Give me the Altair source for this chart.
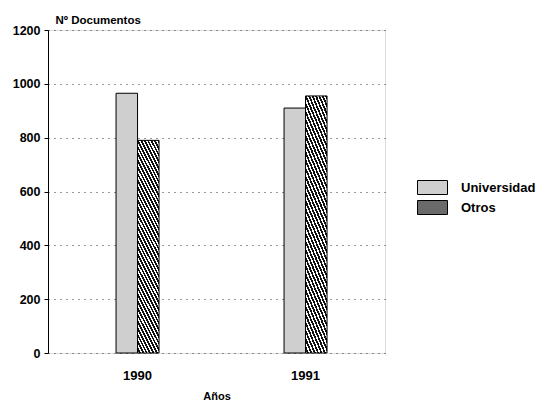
import altair as alt
import pandas as pd

years = ["1990", "1991"]
series = ["Universidad", "Otros"]
universidad = [965, 910]
otros = [790, 955]

rows = []
for i, yr in enumerate(years):
    rows.append({"year": yr, "series": "Universidad", "value": universidad[i]})
    rows.append({"year": yr, "series": "Otros", "value": otros[i]})
df = pd.DataFrame(rows)

# diagonal hatch built from a hard-stop linear gradient
n = 38
stops = []
for k in range(n):
    stops.append({"offset": k / n, "color": "#ffffff"})
    stops.append({"offset": (k + 0.45) / n, "color": "#ffffff"})
    stops.append({"offset": (k + 0.45) / n, "color": "#111111"})
    stops.append({"offset": (k + 1) / n, "color": "#111111"})
hatch = {"gradient": "linear", "x1": 0, "y1": 1, "x2": 0.2308, "y2": -0.154, "stops": stops}

FONT = "Liberation Sans"

fill = alt.condition(
    "datum.series === 'Otros'",
    alt.value(hatch),
    alt.Fill(
        "series:N",
        scale=alt.Scale(domain=series, range=["#cfcfcf", "#6a6a6a"]),
        legend=alt.Legend(
            title=None,
            orient="none",
            legendX=374,
            legendY=147,
            padding=0,
            rowPadding=0,
            symbolType="M-1.5,-0.7H1.5V0.7H-1.5Z",
            symbolSize=400,
            symbolStrokeColor="black",
            symbolStrokeWidth=1,
            symbolOpacity=1,
            labelOffset=18,
            labelLimit=200,
            labelFont=FONT,
            labelFontSize=13,
            labelFontWeight="bold",
            labelColor="black",
        ),
    ),
)

chart = (
    alt.Chart(df)
    .mark_bar(stroke="black", strokeWidth=1)
    .encode(
        x=alt.X(
            "year:N",
            sort=years,
            scale=alt.Scale(paddingInner=0.744, paddingOuter=0.375, align=0.54),
            axis=alt.Axis(
                title="Años",
                labelAngle=0,
                ticks=False,
                domain=False,
                labelPadding=16,
                labelFont=FONT,
                labelFontSize=13,
                labelFontWeight="bold",
                labelColor="black",
                titleFont=FONT,
                titleFontSize=11,
                titleFontWeight="bold",
                titleColor="black",
                titleY=46,
                titleBaseline="alphabetic",
            ),
        ),
        xOffset=alt.XOffset("series:N", sort=series, scale=alt.Scale(paddingInner=0, paddingOuter=0)),
        y=alt.Y(
            "value:Q",
            scale=alt.Scale(domain=[0, 1200], nice=False),
            axis=alt.Axis(
                title="Nº Documentos",
                values=[0, 200, 400, 600, 800, 1000, 1200],
                format="d",
                titleAngle=0,
                titleAlign="left",
                titleBaseline="alphabetic",
                titleX=7,
                titleY=-7,
                titleFont=FONT,
                titleFontSize=11.5,
                titleFontWeight="bold",
                titleColor="black",
                labelFont=FONT,
                labelFontSize=12.5,
                labelFontWeight="bold",
                labelColor="black",
                labelPadding=4,
                tickSize=4,
                tickColor="black",
                domainColor="black",
                gridColor="#333333",
                gridDash=[1, 5],
                gridWidth=1,
            ),
        ),
        fill=fill,
    )
    .properties(
        width=337,
        height=323,
        autosize=alt.AutoSizeParams(type="none"),
        padding={"left": 40, "top": 22, "right": 152, "bottom": 47},
    )
    .configure_view(stroke="black", strokeWidth=1)
    .configure(background="white")
)

chart.save("out.html", embed_options={"renderer": "svg", "actions": False})
